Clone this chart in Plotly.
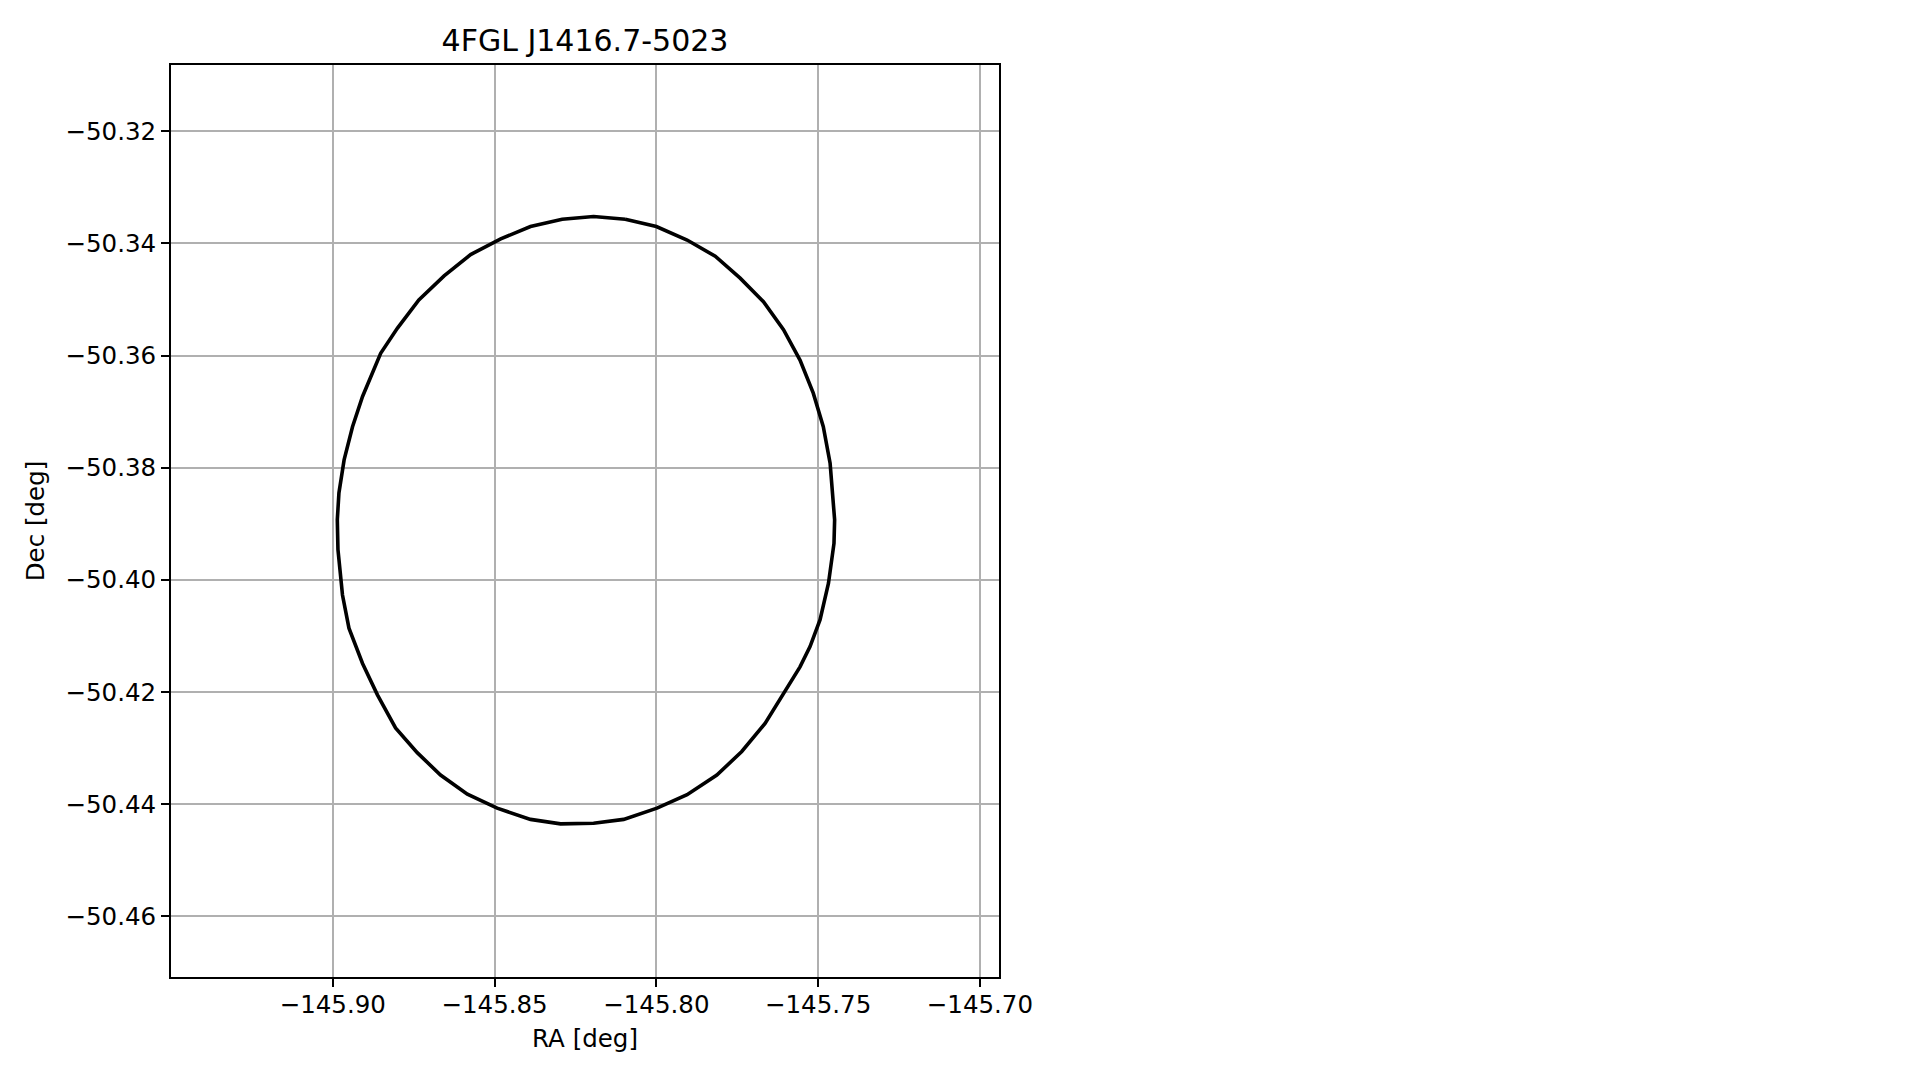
import plotly.graph_objects as go

# Error-ellipse vertices (RA, Dec in degrees)
ra_deg = [
    -145.8096, -145.8000, -145.7905, -145.7818, -145.7741, -145.7669, -145.7607,
    -145.7556, -145.7515, -145.7484, -145.7463, -145.7453, -145.7449, -145.7451,
    -145.7468, -145.7494, -145.7525, -145.7556, -145.7602, -145.7664, -145.7736,
    -145.7813, -145.7905, -145.7998, -145.8101, -145.8194, -145.8296, -145.8389,
    -145.8492, -145.8584, -145.8667, -145.8739, -145.8806, -145.8862, -145.8908,
    -145.8950, -145.8970, -145.8984, -145.8986, -145.8981, -145.8965, -145.8939,
    -145.8908, -145.8852, -145.8800, -145.8734, -145.8656, -145.8574, -145.8481,
    -145.8389, -145.8291, -145.8194, -145.8096,
]
dec_deg = [
    -50.3357, -50.3370, -50.3394, -50.3423, -50.3462, -50.3504, -50.3554,
    -50.3608, -50.3667, -50.3727, -50.3792, -50.3857, -50.3893, -50.3935,
    -50.4006, -50.4071, -50.4119, -50.4155, -50.4199, -50.4256, -50.4306,
    -50.4348, -50.4383, -50.4407, -50.4427, -50.4434, -50.4435, -50.4427,
    -50.4407, -50.4382, -50.4348, -50.4308, -50.4264, -50.4205, -50.4149,
    -50.4086, -50.4027, -50.3946, -50.3893, -50.3845, -50.3786, -50.3727,
    -50.3673, -50.3596, -50.3551, -50.3501, -50.3458, -50.3420, -50.3392,
    -50.3370, -50.3357, -50.3352, -50.3357,
]

x_ticks = [-145.90, -145.85, -145.80, -145.75, -145.70]
x_tick_labels = ["−145.90", "−145.85", "−145.80", "−145.75", "−145.70"]
y_ticks = [-50.32, -50.34, -50.36, -50.38, -50.40, -50.42, -50.44, -50.46]
y_tick_labels = ["−50.32", "−50.34", "−50.36", "−50.38", "−50.40", "−50.42", "−50.44", "−50.46"]

title_text = "4FGL J1416.7-5023"
x_label = "RA [deg]"
y_label = "Dec [deg]"

FONT = "DejaVu Sans"
W, H = 1903, 1064  # page body has an 8px margin

fig = go.Figure()
fig.add_trace(go.Scatter(
    x=ra_deg, y=dec_deg, mode="lines",
    line=dict(color="black", width=3.6),
    showlegend=False, hoverinfo="skip",
))

axis_common = dict(
    showline=True, mirror=True, linecolor="black", linewidth=2,
    ticks="outside", ticklen=8, tickwidth=2, tickcolor="black",
    showgrid=True, gridcolor="#b0b0b0", gridwidth=2,
    zeroline=False,
    tickfont=dict(family=FONT, size=24.5, color="black"),
)

fig.update_layout(
    width=W, height=H, autosize=False,
    paper_bgcolor="white", plot_bgcolor="white",
    margin=dict(l=163, r=W - 991, t=57, b=H - 969),
    font=dict(family=FONT, size=24, color="black"),
    title=dict(
        text=title_text, x=577 / W, xanchor="center",
        y=1 - 32.5 / H, yanchor="middle", yref="container",
        font=dict(family=FONT, size=30, color="black"),
    ),
    xaxis=dict(
        range=[-145.95, -145.6941],
        tickvals=x_ticks, ticktext=x_tick_labels,
        ticklabelstandoff=-3,
        title=dict(text=x_label, standoff=11,
                   font=dict(family=FONT, size=24.5, color="black")),
        **axis_common,
    ),
    yaxis=dict(
        range=[-50.4708, -50.3082],
        tickvals=y_ticks, ticktext=y_tick_labels,
        title=dict(text=y_label, standoff=14,
                   font=dict(family=FONT, size=24.5, color="black")),
        **axis_common,
    ),
)

fig.write_html("out.html")
